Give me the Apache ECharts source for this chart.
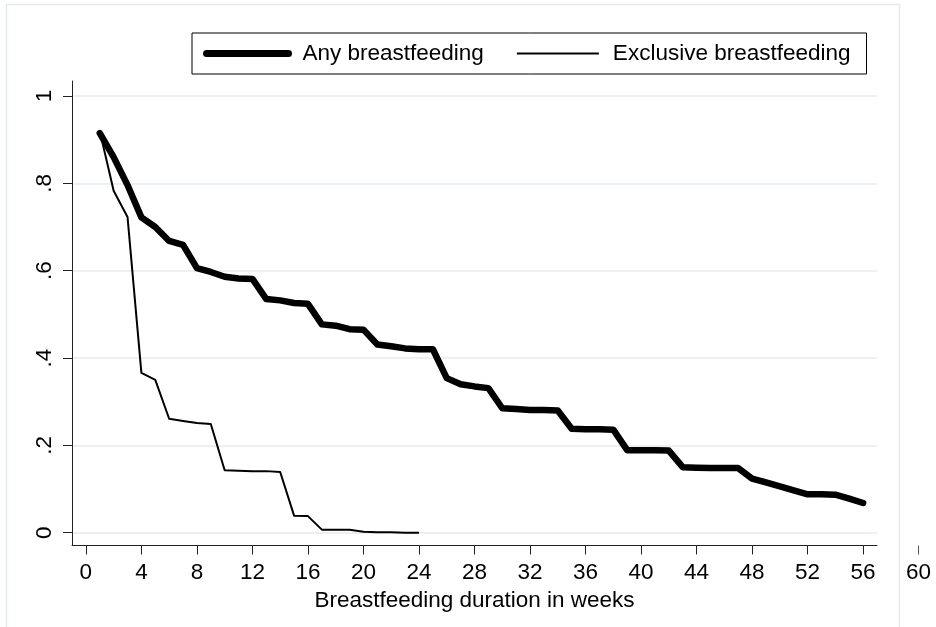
<!DOCTYPE html>
<html>
<head>
<meta charset="utf-8">
<script src="https://cdn.jsdelivr.net/npm/echarts@6/dist/echarts.min.js"></script>
<style>
  html, body { margin: 0; padding: 0; background: #fff; }
  #chart { width: 936px; height: 627px; }
</style>
</head>
<body>
<div id="chart"></div>
<script>
// ---- Data ----
const seriesNames = ['Any breastfeeding', 'Exclusive breastfeeding'];

const anyWeeks = [1,2,3,4,5,6,7,8,9,10,11,12,13,14,15,16,17,18,19,20,21,22,23,24,25,26,27,28,29,30,31,32,33,34,35,36,37,38,39,40,41,42,43,44,45,46,47,48,49,50,51,52,53,54,55,56];
const anyValues = [0.915,0.86,0.796,0.722,0.70,0.668,0.659,0.606,0.597,0.586,0.582,0.581,0.535,0.532,0.526,0.524,0.477,0.474,0.466,0.465,0.431,0.427,0.422,0.420,0.420,0.354,0.340,0.335,0.331,0.285,0.283,0.281,0.281,0.280,0.238,0.237,0.237,0.236,0.189,0.189,0.189,0.188,0.150,0.149,0.148,0.148,0.148,0.124,0.115,0.106,0.097,0.088,0.088,0.087,0.078,0.068];

const exclWeeks = [1,2,3,4,5,6,7,8,9,10,11,12,13,14,15,16,17,18,19,20,21,22,23,24];
const exclValues = [0.92,0.783,0.723,0.366,0.350,0.261,0.256,0.251,0.249,0.143,0.142,0.141,0.141,0.139,0.039,0.038,0.007,0.007,0.007,0.002,0.001,0.001,0.000,0.000];

const xTickValues = [0,4,8,12,16,20,24,28,32,36,40,44,48,52,56];
const xExtraTickValues = [60];
const yTickValues = [0, 0.2, 0.4, 0.6, 0.8, 1];
const yTickLabels = ['0', '.2', '.4', '.6', '.8', '1'];
const xAxisTitle = 'Breastfeeding duration in weeks';

// ---- Chart ----
const FONT = '"Liberation Sans", Arial, sans-serif';
const FS = 22.5;
const AXIS_COLOR = '#222';
const GRID_COLOR = '#e3ebef';
const THICK = 6.5;
const THIN = 2;

const chart = echarts.init(document.getElementById('chart'), null, { renderer: 'canvas' });

function yLabel(v) {
  for (let i = 0; i < yTickValues.length; i++) {
    if (Math.abs(yTickValues[i] - v) < 1e-6) return yTickLabels[i];
  }
  return '';
}

const hiddenSymbol = { color: 'rgba(0,0,0,0)', borderColor: 'rgba(0,0,0,0)', borderWidth: 0, opacity: 0 };

const option = {
  animation: false,
  backgroundColor: '#fff',
  textStyle: { fontFamily: FONT },
  graphic: [{
    type: 'rect',
    shape: { x: 6.5, y: 4.5, width: 893, height: 640 },
    style: { fill: 'none', stroke: '#e2eaee', lineWidth: 1.5 },
    silent: true,
    z: -10
  }],
  legend: {
    data: [
      { name: seriesNames[0], itemStyle: hiddenSymbol, lineStyle: { color: '#000', width: THICK + 0.5, cap: 'round' } },
      { name: seriesNames[1], itemStyle: hiddenSymbol, lineStyle: { color: '#000', width: THIN, cap: 'butt' } }
    ],
    left: 192,
    top: 33,
    orient: 'horizontal',
    itemWidth: 82,
    itemHeight: 14,
    itemGap: 32,
    padding: [9, 16, 9, 11],
    borderColor: '#000',
    borderWidth: 1,
    backgroundColor: '#fff',
    textStyle: { fontFamily: FONT, fontSize: FS, color: '#000', padding: [0, 0, 0, 9] }
  },
  grid: [
    { left: 72, right: 59, top: 81, bottom: 81.5, containLabel: false },
    { left: 72, width: 846.6, top: 81, bottom: 81.5, containLabel: false }
  ],
  xAxis: [
    {
      type: 'value', gridIndex: 0, min: -1, max: 57,
      axisLine: { show: true, onZero: false, lineStyle: { color: AXIS_COLOR, width: 1 } },
      axisTick: { show: true, length: 9, customValues: xTickValues, lineStyle: { color: AXIS_COLOR, width: 1 } },
      axisLabel: { show: true, customValues: xTickValues, margin: 16, fontFamily: FONT, fontSize: FS, color: '#000' },
      splitLine: { show: false },
      name: xAxisTitle,
      nameLocation: 'middle',
      nameGap: 37,
      nameTextStyle: { fontFamily: FONT, fontSize: FS, color: '#000' }
    },
    {
      type: 'value', gridIndex: 1, min: -1, max: 60,
      axisLine: { show: false },
      axisTick: { show: true, length: 9, customValues: xExtraTickValues, lineStyle: { color: '#555', width: 1 } },
      axisLabel: { show: true, customValues: xExtraTickValues, margin: 16, fontFamily: FONT, fontSize: FS, color: '#000' },
      splitLine: { show: false }
    }
  ],
  yAxis: [
    {
      type: 'value', gridIndex: 0, min: -0.0293, max: 1.0343,
      axisLine: { show: true, onZero: false, lineStyle: { color: AXIS_COLOR, width: 1 } },
      axisTick: { show: true, length: 9, customValues: yTickValues, lineStyle: { color: AXIS_COLOR, width: 1 } },
      axisLabel: { show: true, customValues: yTickValues, rotate: 90, margin: 16, fontFamily: FONT, fontSize: FS, color: '#000', formatter: yLabel },
      splitLine: { show: true, lineStyle: { color: GRID_COLOR, width: 1.5 } }
    },
    {
      type: 'value', gridIndex: 1, min: 0, max: 1, show: false
    }
  ],
  series: [
    {
      name: seriesNames[0],
      type: 'line',
      xAxisIndex: 0, yAxisIndex: 0,
      data: anyWeeks.map((w, i) => [w, anyValues[i]]),
      symbol: 'none',
      lineStyle: { color: '#000', width: THICK, cap: 'round', join: 'round' },
      itemStyle: { color: '#000' },
      z: 3
    },
    {
      name: seriesNames[1],
      type: 'line',
      xAxisIndex: 0, yAxisIndex: 0,
      data: exclWeeks.map((w, i) => [w, exclValues[i]]),
      symbol: 'none',
      lineStyle: { color: '#000', width: THIN, join: 'round' },
      itemStyle: { color: '#000' },
      z: 2
    }
  ]
};

chart.setOption(option);
</script>
</body>
</html>
